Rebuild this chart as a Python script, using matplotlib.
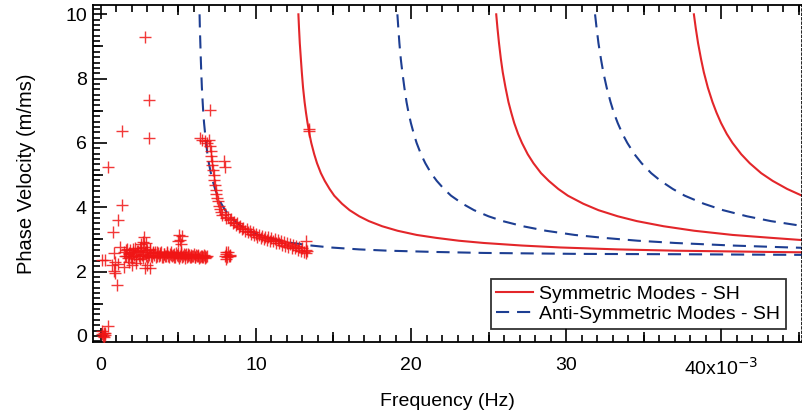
import numpy as np
import matplotlib.pyplot as plt
from matplotlib.ticker import MultipleLocator

plt.rcParams['font.family'] = ['Liberation Sans', 'DejaVu Sans']

# SH mode dispersion curves (frequency x1e-3 Hz, phase velocity m/ms)
sym_f = [
    [12.74, 12.78, 12.83, 12.90, 12.96, 13.04, 13.14, 13.23, 13.33, 13.45, 13.57, 13.76, 13.94,
     14.19, 14.44, 14.75, 15.05, 15.55, 16.04, 16.66, 17.28, 18.14, 19.13, 20.36, 21.60, 23.08,
     24.68, 27.15, 29.62, 33.32, 37.02, 43.19, 45.2],
    [25.49, 25.57, 25.67, 25.79, 25.91, 26.09, 26.28, 26.46, 26.65, 26.90, 27.15, 27.52, 27.89,
     28.38, 28.88, 29.49, 30.11, 31.10, 32.08, 33.32, 34.55, 36.28, 38.25, 40.72, 43.19, 45.2],
    [38.23, 38.35, 38.50, 38.69, 38.87, 39.13, 39.43, 39.69, 39.98, 40.35, 40.72, 41.28, 41.83,
     42.57, 43.31, 44.24, 45.2],
]
sym_c = [
    [10.0, 9.57, 9.10, 8.61, 8.20, 7.72, 7.27, 6.94, 6.62, 6.28, 6.00, 5.65, 5.37, 5.06, 4.82,
     4.57, 4.36, 4.11, 3.91, 3.72, 3.57, 3.41, 3.27, 3.14, 3.05, 2.96, 2.89, 2.81, 2.75, 2.69,
     2.65, 2.61, 2.60],
    [10.0, 9.57, 9.10, 8.61, 8.20, 7.72, 7.27, 6.94, 6.62, 6.28, 6.00, 5.65, 5.37, 5.06, 4.82,
     4.57, 4.36, 4.11, 3.91, 3.72, 3.57, 3.41, 3.27, 3.14, 3.05, 2.98],
    [10.0, 9.57, 9.10, 8.61, 8.20, 7.72, 7.27, 6.94, 6.62, 6.28, 6.00, 5.65, 5.37, 5.06, 4.82,
     4.57, 4.36],
]
anti_f = [
    [6.37, 6.39, 6.42, 6.45, 6.48, 6.52, 6.57, 6.61, 6.66, 6.73, 6.79, 6.88, 6.97, 7.10, 7.22,
     7.37, 7.53, 7.77, 8.02, 8.33, 8.64, 9.07, 9.56, 10.18, 10.80, 11.54, 12.34, 13.57, 14.81,
     16.66, 18.51, 21.60, 24.68, 30.85, 37.02, 45.2],
    [19.12, 19.18, 19.25, 19.34, 19.44, 19.57, 19.71, 19.84, 19.99, 20.18, 20.36, 20.64, 20.92,
     21.29, 21.66, 22.12, 22.58, 23.32, 24.06, 24.99, 25.91, 27.21, 28.69, 30.54, 32.39, 34.61,
     37.02, 40.72, 44.42, 45.2],
    [31.86, 31.96, 32.08, 32.24, 32.39, 32.61, 32.86, 33.07, 33.32, 33.63, 33.94, 34.40, 34.86,
     35.48, 36.09, 36.87, 37.64, 38.87, 40.11, 41.65, 43.19, 45.2],
]
anti_c = [
    [10.0, 9.57, 9.10, 8.61, 8.20, 7.72, 7.27, 6.94, 6.62, 6.28, 6.00, 5.65, 5.37, 5.06, 4.82,
     4.57, 4.36, 4.11, 3.91, 3.72, 3.57, 3.41, 3.27, 3.14, 3.05, 2.96, 2.89, 2.81, 2.75, 2.69,
     2.65, 2.61, 2.58, 2.55, 2.54, 2.52],
    [10.0, 9.57, 9.10, 8.61, 8.20, 7.72, 7.27, 6.94, 6.62, 6.28, 6.00, 5.65, 5.37, 5.06, 4.82,
     4.57, 4.36, 4.11, 3.91, 3.72, 3.57, 3.41, 3.27, 3.14, 3.05, 2.96, 2.89, 2.81, 2.75, 2.74],
    [10.0, 9.57, 9.10, 8.61, 8.20, 7.72, 7.27, 6.94, 6.62, 6.28, 6.00, 5.65, 5.37, 5.06, 4.82,
     4.57, 4.36, 4.11, 3.91, 3.72, 3.57, 3.42],
]

# measured points (red crosses)
origin_pts = [(0.05, 0.05), (0.12, 0.0), (0.18, 0.08), (0.25, 0.02), (0.1, 0.15), (0.3, 0.1),
              (0.2, -0.02), (0.5, 0.3)]
scatter_pts = [(0.08, 2.36), (0.3, 2.35), (0.5, 5.26), (0.8, 3.23), (1.13, 3.6), (1.39, 4.07),
               (1.37, 6.36), (2.87, 9.29), (3.08, 7.33), (3.08, 6.15), (1.04, 1.59), (0.94, 1.96),
               (0.83, 2.58), (1.26, 2.78), (0.7, 2.2), (1.1, 2.25), (0.94, 2.31), (0.83, 2.03),
               (1.47, 2.15), (2.0, 2.2), (2.87, 2.1), (3.19, 2.1), (3.0, 2.22), (1.8, 2.3),
               (2.3, 2.28), (2.76, 3.09), (2.7, 2.93), (2.9, 2.88), (2.6, 2.85), (5.02, 3.14),
               (5.13, 2.98), (5.25, 3.1), (5.2, 2.85), (4.95, 2.95)]
band_x = [1.5, 1.6, 1.7, 1.8, 1.9, 2.0, 2.1, 2.2, 2.3, 2.4, 2.5, 2.6, 2.7, 2.8, 2.9, 3.0, 3.1, 3.2,
          3.3, 3.4, 3.5, 3.6, 3.7, 3.8, 3.9, 4.0, 4.1, 4.2, 4.3, 4.4, 4.5, 4.6, 4.7, 4.8, 4.9, 5.0,
          5.1, 5.2, 5.3, 5.4, 5.5, 5.6, 5.7, 5.8, 5.9, 6.0, 6.1, 6.2, 6.3, 6.4, 6.5, 6.6, 6.7, 6.8]
band_y1 = [2.62, 2.48, 2.70, 2.55, 2.66, 2.45, 2.60, 2.72, 2.50, 2.64, 2.40, 2.68, 2.56, 2.75,
           2.47, 2.62, 2.53, 2.66, 2.44, 2.58, 2.61, 2.49, 2.57, 2.52, 2.60, 2.46, 2.55, 2.50,
           2.58, 2.44, 2.53, 2.49, 2.56, 2.45, 2.52, 2.58, 2.47, 2.55, 2.50, 2.43, 2.56, 2.48,
           2.52, 2.45, 2.50, 2.55, 2.44, 2.49, 2.53, 2.46, 2.50, 2.44, 2.48, 2.46]
band_y2 = [2.50, 2.66, 2.42, 2.58, 2.47, 2.70, 2.52, 2.40, 2.63, 2.48, 2.74, 2.52, 2.43, 2.60,
           2.68, 2.45, 2.70, 2.48, 2.60, 2.52, 2.45, 2.62, 2.48, 2.58, 2.44, 2.56, 2.50, 2.60,
           2.47, 2.55, 2.60, 2.52, 2.44, 2.57, 2.48, 2.43, 2.60, 2.46, 2.55, 2.52, 2.46, 2.54,
           2.44, 2.53, 2.47, 2.45, 2.52, 2.47, 2.42, 2.50, 2.46, 2.51, 2.43, 2.49]
cluster8_pts = [(8.0, 2.5), (8.1, 2.56), (8.15, 2.44), (8.2, 2.6), (8.25, 2.5), (8.3, 2.53),
                (8.1, 2.4), (8.05, 2.62), (8.35, 2.47)]
curve_pts = [(6.42, 6.15), (6.55, 6.1), (6.7, 6.05), (6.85, 6.0), (6.95, 6.08), (7.05, 5.9),
             (7.1, 5.75), (7.12, 5.6), (7.18, 5.45), (7.2, 5.3), (7.25, 5.15), (7.28, 5.0),
             (7.3, 4.85), (7.35, 4.7), (7.4, 4.55), (7.45, 4.42), (7.5, 4.3), (7.55, 4.18),
             (7.6, 4.05), (7.68, 3.95), (7.75, 3.85), (7.82, 3.75), (7.92, 5.45), (7.98, 5.25),
             (7.06, 7.02), (13.45, 6.43), (13.45, 6.37),
             (8.0, 3.78), (8.1, 3.68), (8.2, 3.7), (8.3, 3.6), (8.4, 3.64), (8.5, 3.52),
             (8.6, 3.55), (8.7, 3.46), (8.8, 3.5), (8.9, 3.38), (9.0, 3.42), (9.1, 3.32),
             (9.2, 3.36), (9.3, 3.26), (9.4, 3.32), (9.5, 3.22), (9.6, 3.27), (9.7, 3.16),
             (9.8, 3.23), (9.9, 3.14), (10.0, 3.18), (10.1, 3.08), (10.2, 3.15), (10.3, 3.04),
             (10.4, 3.12), (10.5, 3.02), (10.6, 3.08), (10.7, 2.99), (10.8, 3.07), (10.9, 2.96),
             (11.0, 3.04), (11.1, 2.94), (11.2, 3.0), (11.3, 2.9), (11.4, 2.98), (11.5, 2.88),
             (11.6, 2.95), (11.7, 2.84), (11.8, 2.92), (11.9, 2.8), (12.0, 2.9), (12.1, 2.78),
             (12.2, 2.86), (12.3, 2.74), (12.4, 2.83), (12.5, 2.72), (12.6, 2.8), (12.7, 2.68),
             (12.8, 2.77), (12.9, 2.65), (13.0, 2.72), (13.1, 2.62), (13.2, 2.68), (13.25, 2.58),
             (13.3, 2.63), (13.2, 2.96)]

red = '#e3262a'
blue = '#1d3e92'

fig = plt.figure(figsize=(8.03, 4.17), dpi=100)
ax = fig.add_axes([0.1152, 0.1806, 0.8836, 0.8074])

# measured data
pts = origin_pts + scatter_pts + cluster8_pts + curve_pts
mx = [p[0] for p in pts] + band_x + [x + 0.05 for x in band_x]
my = [p[1] for p in pts] + band_y1 + band_y2
ax.plot(mx, my, '+', color='#f01515', ms=9, mew=1.0, alpha=0.85, zorder=3)

for i, (f, c) in enumerate(zip(sym_f, sym_c)):
    ax.plot(f, c, '-', color=red, lw=1.5, zorder=2,
            label='Symmetric Modes - SH' if i == 0 else None)
for i, (f, c) in enumerate(zip(anti_f, anti_c)):
    ax.plot(f, c, '--', color=blue, lw=1.5, dashes=(6.3, 3.8), zorder=2,
            label='Anti-Symmetric Modes - SH' if i == 0 else None)

ax.set_xlim(-0.53, 45.2)
ax.set_ylim(-0.18, 10.29)

ax.set_xticks([0, 10, 20, 30, 40])
ax.set_xticklabels(['0', '10', '20', '30', '40x10$^{-3}$'])
ax.xaxis.set_minor_locator(MultipleLocator(1))
ax.set_yticks([0, 2, 4, 6, 8, 10])
ax.yaxis.set_minor_locator(MultipleLocator(1 / 6))

ax.tick_params(axis='x', which='major', direction='in', length=10, width=1.2, top=True,
               labelsize=14, pad=11)
ax.tick_params(axis='x', which='minor', direction='in', length=5, width=1.2, top=True)
ax.tick_params(axis='y', which='major', direction='in', length=10, width=1.2, right=False,
               labelsize=14, pad=4)
ax.tick_params(axis='y', which='minor', direction='in', length=5, width=1.2, right=False)

# medium ticks at the half-way marks
for side in ['bottom', 'top']:
    sec = ax.secondary_xaxis(side)
    sec.set_xticks([5, 15, 25, 35, 45])
    sec.tick_params(direction='in', length=7.5, width=1.2, labelbottom=False, labeltop=False)
    sec.spines[side].set_visible(False)
secy = ax.secondary_yaxis('left')
secy.set_yticks([1, 3, 5, 7, 9])
secy.tick_params(direction='in', length=7.5, width=1.2, labelleft=False)
secy.spines['left'].set_visible(False)

for s in ['left', 'bottom', 'top']:
    ax.spines[s].set_linewidth(1.3)
ax.spines['right'].set_linestyle(':')
ax.spines['right'].set_linewidth(1.2)

ax.set_xlabel('Frequency (Hz)', fontsize=14, labelpad=10)
ax.set_ylabel('Phase Velocity (m/ms)', fontsize=14.5, labelpad=21)

leg = ax.legend(loc='lower right', bbox_to_anchor=(0.9775, 0.0377), borderaxespad=0,
                fontsize=14, frameon=True, fancybox=False, edgecolor='black',
                handlelength=1.9, handletextpad=0.3, borderpad=0.3, labelspacing=0.15)
leg.get_frame().set_linewidth(1.3)

fig.savefig('out.png', dpi=100)
